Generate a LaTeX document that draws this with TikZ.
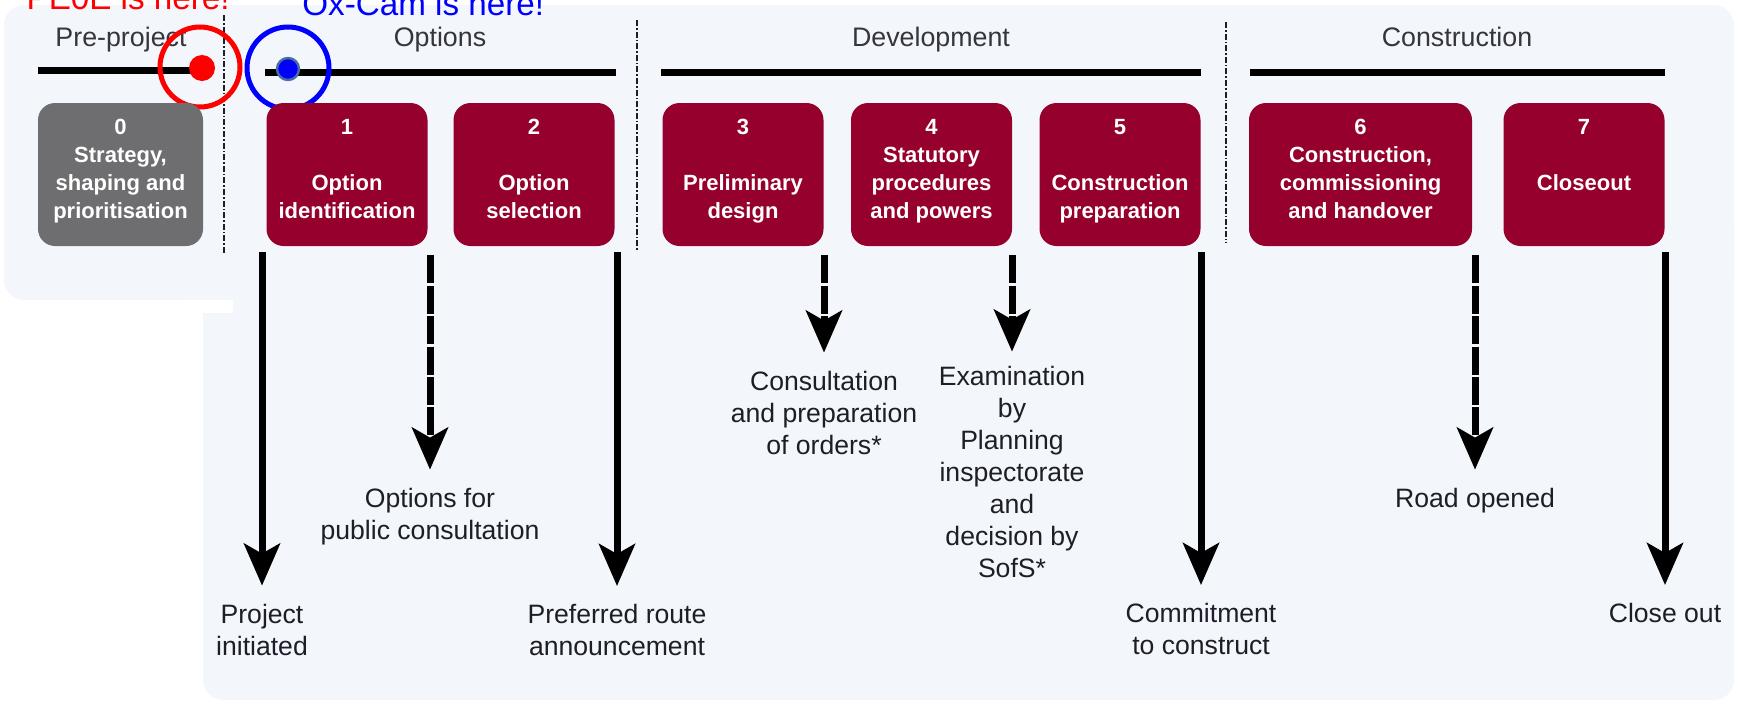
\documentclass[tikz,border=0pt]{standalone}
\usepackage{fontspec}
\setmainfont{Liberation Sans}
\usetikzlibrary{arrows.meta,positioning}
\definecolor{maroon}{RGB}{150,0,45}
\definecolor{stagegray}{RGB}{110,110,112}
\definecolor{panelblue}{RGB}{243,247,252}
\definecolor{inktext}{RGB}{30,30,40}
\definecolor{dotedge}{RGB}{70,110,160}
\newcommand{\lastrow}{\rule[-8.3pt]{0pt}{8.3pt}}

\begin{document}
\begin{tikzpicture}[x=0.5pt, y=-0.5pt,
  stage/.style={rounded corners=8.5pt, fill=maroon, text=white, align=center, minimum width=80.5pt, minimum height=71.5pt, inner xsep=1pt, font=\fontsize{11}{14}\selectfont\bfseries},
  phase/.style={font=\fontsize{13.4}{16}\selectfont, text=inktext!90, anchor=base},
  outcome/.style={font=\fontsize{13.3}{16}\selectfont, text=inktext, align=center, inner sep=0pt, anchor=north},
  bar/.style={line width=3.5pt},
  sep/.style={line width=0.75pt, inktext, dash pattern=on 3pt off 1pt on 0.8pt off 1pt},
  gate/.style={line width=3.5pt, -{Stealth[length=21pt, width=18pt, inset=5pt]}, shorten >=9pt},
  soft/.style={gate, dash pattern=on 14pt off 1.2pt}]
\useasboundingbox (0,0) rectangle (1738,702);
\clip (0,0) rectangle (1738,702);

% background panels
\fill[panelblue, rounded corners=10pt] (4,5) rectangle (1734,300);
\fill[panelblue, rounded corners=10pt] (203,200) rectangle (1734,700);
\fill[white] (180,300) rectangle (233,313);

% you are here
\node[anchor=base east, text=red, font=\fontsize{16.6}{20}\selectfont, inner sep=0pt] (pehere) at (230,9) {PE0E is here!};
\node[anchor=base west, text=blue, font=\fontsize{16.6}{20}\selectfont, inner sep=0pt] (oxhere) at (302,15) {Ox-Cam is here!};

% phases
\node[phase] (tpre) at (121,46) {Pre-project};
\node[phase] (topt) at (440,46) {Options};
\node[phase] (tdev) at (931,46) {Development};
\node[phase] (tcon) at (1457,46) {Construction};
\draw[bar] (38,70) -- (203,70);
\draw[bar] (265,72) -- (616,72);
\draw[bar] (661,72) -- (1201,72);
\draw[bar] (1250,72) -- (1665,72);
\draw[sep] (224,15) -- (224,253);
\draw[sep] (637,20) -- (637,250);
\draw[sep] (1226,22) -- (1226,243);

% markers
\fill[red] (202,68) circle[radius=13];
\draw[red, line width=2.5pt] (200,67) circle[radius=40];
\draw[blue, line width=2.5pt] (288,68) circle[radius=41];
\filldraw[fill=blue, draw=dotedge, line width=1.2pt] (288,69) circle[radius=11];

% stages
\node[stage, fill=stagegray, minimum width=82.5pt] (s0) at (120.5,174.5) {\strut 0\\\strut Strategy,\\\strut shaping and\\\lastrow prioritisation};
\node[stage] (s1) at (347,174.5) {\strut 1\\\strut\\\strut Option\\\lastrow identification};
\node[stage] (s2) at (534,174.5) {\strut 2\\\strut\\\strut Option\\\lastrow selection};
\node[stage] (s3) at (743,174.5) {\strut 3\\\strut\\\strut Preliminary\\\lastrow design};
\node[stage] (s4) at (931.5,174.5) {\strut 4\\\strut Statutory\\\strut procedures\\\lastrow and powers};
\node[stage] (s5) at (1120,174.5) {\strut 5\\\strut\\\strut Construction\\\lastrow preparation};
\node[stage, minimum width=111.5pt] (s6) at (1360.5,174.5) {\strut 6\\\strut Construction,\\\strut commissioning\\\lastrow and handover};
\node[stage] (s7) at (1584,174.5) {\strut 7\\\strut\\\strut Closeout\\\lastrow};

% outcomes
\node[outcome] (pinit) at (262,603.6) {Project\\initiated};
\node[outcome] (optpc) at (430,487.6) {Options for\\public consultation};
\node[outcome] (pref) at (617,604) {Preferred route\\announcement};
\node[outcome] (consult) at (824,370.6) {Consultation\\and preparation\\of orders*};
\node[outcome] (exam) at (1012,365.6) {Examination\\by\\Planning\\inspectorate\\and\\decision by\\SofS*};
\node[outcome] (commit) at (1201,603) {Commitment\\to construct};
\node[outcome] (road) at (1475,487.6) {Road opened};
\node[outcome] (close) at (1665,603) {Close out};

\draw[gate] (pinit.north |- s1.south) ++(0,6) -- (pinit.north);
\draw[soft] (optpc.north |- s1.south) ++(0,9) -- (optpc.north);
\draw[gate] (pref.north |- s2.south) ++(0,6) -- (pref.north);
\draw[soft] (consult.north |- s3.south) ++(0,9) -- (consult.north);
\draw[soft, shorten >=7pt] (exam.north |- s4.south) ++(0,9) -- (exam.north);
\draw[gate] (commit.north |- s5.south) ++(0,6) -- (commit.north);
\draw[soft] (road.north |- s6.south) ++(0,9) -- (road.north);
\draw[gate] (close.north |- s7.south) ++(0,6) -- (close.north);
\end{tikzpicture}
\end{document}
